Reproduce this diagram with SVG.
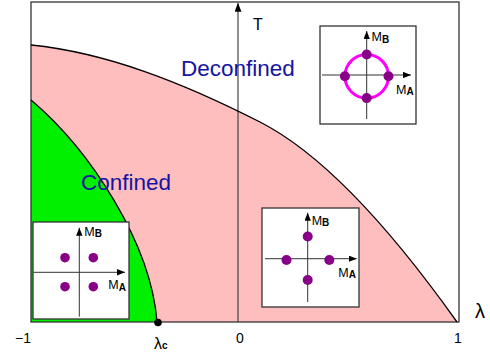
<svg xmlns="http://www.w3.org/2000/svg" width="490" height="353" viewBox="0 0 490 353">
<style>
text{font-family:"Liberation Sans",Arial,sans-serif;fill:#000}
.tick{font-size:14px;text-anchor:middle}
.phase{font-size:22.5px;fill:#1414a0}
.m{font-size:12.5px}
.sub{font-size:10px;font-weight:bold}
.box{fill:#fff;stroke:#333;stroke-width:1.3}
.ax{stroke:#333;stroke-width:1;fill:none}
.dot{fill:#880088}
.curve{fill:none;stroke:#000;stroke-width:1.3}
</style>
<defs>
<marker id="ah" viewBox="0 0 10 8" refX="10" refY="4" markerWidth="8" markerHeight="6.4" markerUnits="userSpaceOnUse" orient="auto">
<path d="M0,0 L10,4 L0,8 Z" fill="#000"/>
</marker>
<marker id="ahT" viewBox="0 0 10 8" refX="10" refY="4" markerWidth="12" markerHeight="7" markerUnits="userSpaceOnUse" orient="auto">
<path d="M0,0 L10,4 L0,8 Z" fill="#000"/>
</marker>
</defs>
<rect width="490" height="353" fill="#fff"/>
<g id="regions">
<path d="M31,45 C107,52.6 184,83.2 260,122 C325.7,155.5 393,232 457,322 L31,322 Z" fill="#ffbebe"/>
<path d="M31,100 C90,150 151,243 157,322 L31,322 Z" fill="#00f000"/>
</g>
<g id="frame">
<rect x="31" y="2" width="428" height="320" fill="none" stroke="#333" stroke-width="1.3"/>
<line x1="238" y1="322" x2="238" y2="3" stroke="#444" stroke-width="1.2" marker-end="url(#ahT)"/>
</g>
<g id="connectors">
<path class="curve" d="M31,45 C107,52.6 184,83.2 260,122 C325.7,155.5 393,232 457,322"/>
<path class="curve" d="M31,100 C90,150 151,243 157,322"/>
<circle cx="158" cy="322.5" r="3.8" fill="#000"/>
</g>
<g id="labels">
<text x="253" y="30" style="font-size:16px">T</text>
<text class="phase" x="181" y="76">Deconfined</text>
<text class="phase" x="81" y="190">Confined</text>
<text class="tick" x="23" y="343">−1</text>
<text class="tick" x="240" y="343">0</text>
<text class="tick" x="458" y="343">1</text>
<text x="154" y="349" style="font-size:16px">λ<tspan style="font-size:10px;font-weight:bold" dy="0">c</tspan></text>
<text x="475" y="318" style="font-size:20px">λ</text>
</g>
<g id="inset-ring" transform="translate(320,26)">
<rect class="box" x="0" y="0" width="96" height="98"/>
<line class="ax" x1="2" y1="49" x2="91" y2="49" marker-end="url(#ah)"/>
<line class="ax" x1="46.7" y1="93" x2="46.7" y2="5" marker-end="url(#ah)"/>
<circle cx="46.7" cy="50.3" r="21.8" fill="none" stroke="#ff00ff" stroke-width="3"/>
<circle class="dot" cx="46.7" cy="28.5" r="5"/>
<circle class="dot" cx="46.7" cy="72.1" r="5"/>
<circle class="dot" cx="24.9" cy="50.3" r="5"/>
<circle class="dot" cx="68.5" cy="50.3" r="5"/>
<text class="m" x="51.5" y="15">M<tspan class="sub" dy="1.5">B</tspan></text>
<text class="m" x="76" y="67.5">M<tspan class="sub" dy="1.5">A</tspan></text>
</g>
<g id="inset-cross" transform="translate(262,208)">
<rect class="box" x="0" y="0" width="97" height="99"/>
<line class="ax" x1="3" y1="50.7" x2="94.7" y2="50.7" marker-end="url(#ah)"/>
<line class="ax" x1="45.7" y1="94" x2="45.7" y2="4.7" marker-end="url(#ah)"/>
<circle class="dot" cx="45.7" cy="28.5" r="5"/>
<circle class="dot" cx="45.7" cy="72" r="5"/>
<circle class="dot" cx="24.5" cy="52" r="5"/>
<circle class="dot" cx="67.3" cy="52" r="5"/>
<text class="m" x="49.7" y="16.5">M<tspan class="sub" dy="1.5">B</tspan></text>
<text class="m" x="76.3" y="68.5">M<tspan class="sub" dy="1.5">A</tspan></text>
</g>
<g id="inset-square" transform="translate(33,222)">
<rect class="box" x="0" y="0" width="96" height="97"/>
<line class="ax" x1="0.5" y1="50.3" x2="92" y2="50.3" marker-end="url(#ah)"/>
<line class="ax" x1="46.3" y1="94.7" x2="46.3" y2="5.7" marker-end="url(#ah)"/>
<circle class="dot" cx="32" cy="35.7" r="4.8"/>
<circle class="dot" cx="60.3" cy="35.7" r="4.8"/>
<circle class="dot" cx="32" cy="64.7" r="4.8"/>
<circle class="dot" cx="60.3" cy="64.7" r="4.8"/>
<text class="m" x="51.3" y="13.5">M<tspan class="sub" dy="1.5">B</tspan></text>
<text class="m" x="75.3" y="67.3">M<tspan class="sub" dy="1.5">A</tspan></text>
</g>
</svg>
